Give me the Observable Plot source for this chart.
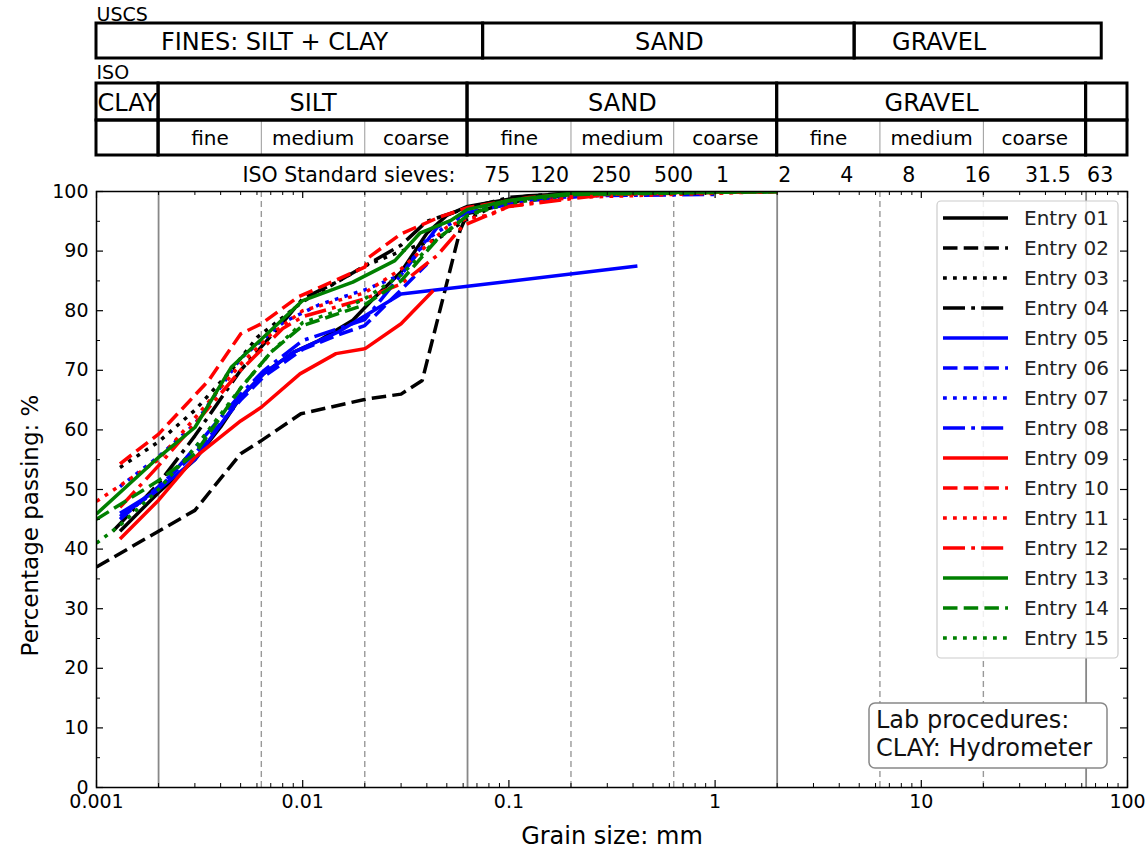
<!DOCTYPE html>
<html><head><meta charset="utf-8">
<script src="https://cdn.jsdelivr.net/npm/d3@7"></script>
<script src="https://cdn.jsdelivr.net/npm/@observablehq/plot@0.6"></script>
<style>
body{margin:0;background:#fff;font-family:"DejaVu Sans",sans-serif}
#chart{position:relative;width:1147px;height:856px;background:#fff}
#chart svg{display:block;font-family:"DejaVu Sans",sans-serif;background:none;overflow:visible}
</style></head><body><div id="chart"></div>
<script>
// ---------------- data ----------------
const entryNames = ["Entry 01","Entry 02","Entry 03","Entry 04","Entry 05","Entry 06","Entry 07","Entry 08","Entry 09","Entry 10","Entry 11","Entry 12","Entry 13","Entry 14","Entry 15"];
const entryColors = ["#000000","#000000","#000000","#000000","#0000ff","#0000ff","#0000ff","#0000ff","#ff0000","#ff0000","#ff0000","#ff0000","#008000","#008000","#008000"];
const entryStyles = ["solid","dashed","dotted","dashdot","solid","dashed","dotted","dashdot","solid","dashed","dotted","dashdot","solid","dashed","dotted"];

// [grain size mm, % passing]
const entry01 = [[0.0013,43],[0.002,49.5],[0.003,55],[0.004,60.5],[0.005,65.5],[0.0065,69.5],[0.009,73],[0.012,75],[0.0175,78.4],[0.022,82],[0.03,86.5],[0.04,93],[0.05,96],[0.063,97.5],[0.125,99.3],[0.25,99.8],[0.5,100],[2,100]];
const entry02 = [[0.001,37],[0.003,46.5],[0.005,56],[0.0063,58.2],[0.0098,62.7],[0.0205,65.2],[0.03,66],[0.038,68.3],[0.058,93.5],[0.063,96.3],[0.125,98.8],[0.25,99.6],[0.5,100],[2,100]];
const entry03 = [[0.0013,53.7],[0.002,58],[0.003,63.3],[0.0045,70],[0.006,75.5],[0.01,81.5],[0.015,85],[0.02,87.5],[0.03,90],[0.045,92],[0.06,95],[0.09,98],[0.2,99.5],[0.5,100],[2,100]];
const entry04 = [[0.0012,43],[0.002,51],[0.003,59],[0.005,70],[0.008,78],[0.01,82],[0.015,85],[0.02,87.5],[0.03,91],[0.04,95],[0.06,97],[0.1,99],[0.25,100],[2,100]];
const entry05 = [[0.0013,46],[0.002,50],[0.003,55],[0.005,65.5],[0.0065,69.5],[0.009,73],[0.015,76.5],[0.03,82.8],[0.063,84.1],[0.42,87.5]];
const entry06 = [[0.0013,45],[0.002,50.5],[0.003,56],[0.005,65],[0.0065,69],[0.01,73.5],[0.015,76],[0.02,77.5],[0.03,83.5],[0.04,87.8]];
const entry07 = [[0.0013,50.5],[0.002,55.5],[0.003,61],[0.005,72],[0.008,78],[0.012,81],[0.02,83.5],[0.03,86],[0.04,92],[0.06,96],[0.1,98.5],[0.3,99.5],[1,100]];
const entry08 = [[0.0013,45.5],[0.002,50],[0.003,57],[0.005,66],[0.0065,70],[0.01,75],[0.02,78.5],[0.03,86],[0.045,94],[0.063,96.5],[0.125,98.5],[0.25,99.3],[1,99.5]];
const entry09 = [[0.0013,41.7],[0.002,48.2],[0.003,55.4],[0.005,61.5],[0.0063,63.8],[0.0097,69.4],[0.0145,72.8],[0.02,73.6],[0.03,77.8],[0.043,83.4]];
const entry10 = [[0.0013,54.3],[0.002,59.3],[0.0035,68.3],[0.005,76.1],[0.0063,77.8],[0.0095,82.3],[0.02,87.3],[0.021,89],[0.03,92.9],[0.046,95.7],[0.063,97.3],[0.125,99],[0.25,99.7],[2,100]];
const entry11 = [[0.001,48],[0.002,55],[0.003,62],[0.005,71],[0.007,76],[0.01,80],[0.02,83],[0.03,87],[0.05,94],[0.063,95.5],[0.08,96],[0.1,97.5],[0.2,99],[2,100]];
const entry12 = [[0.0013,47],[0.002,54],[0.003,61],[0.005,70],[0.008,77],[0.01,79],[0.02,82],[0.03,84.5],[0.045,89.3],[0.06,94.3],[0.1,97.5],[0.3,99.5],[2,100]];
const entry13 = [[0.001,45.9],[0.002,55.4],[0.003,60.4],[0.0045,70.5],[0.01,81.7],[0.0175,84.8],[0.028,88.4],[0.037,93],[0.052,95.1],[0.063,97],[0.1,98.5],[0.2,99.7],[2,100]];
const entry14 = [[0.001,45],[0.002,51.5],[0.003,56],[0.005,67],[0.007,73],[0.01,77.5],[0.02,81],[0.03,85],[0.045,92],[0.063,96],[0.1,98.5],[0.2,99.5],[2,100]];
const entry15 = [[0.001,41],[0.0013,44],[0.002,50],[0.003,57],[0.005,67],[0.007,73],[0.01,78],[0.015,80],[0.02,82],[0.03,86],[0.045,92],[0.063,96],[0.1,98],[0.2,99.5],[2,100]];
const entries = [entry01,entry02,entry03,entry04,entry05,entry06,entry07,entry08,entry09,entry10,entry11,entry12,entry13,entry14,entry15];

// classification boundaries (mm)
const isoMajor = [0.002, 0.063, 2, 63];
const isoMinor = [0.0063, 0.02, 0.2, 0.63, 6.3, 20];
const isoBounds = [0.001, 0.002, 0.063, 2, 63, 100];
const isoLabels = ["CLAY", "SILT", "SAND", "GRAVEL", ""];
const isoSubBounds = [0.002, 0.0063, 0.02, 0.063, 0.2, 0.63, 2, 6.3, 20, 63];
const isoSubLabels = ["fine","medium","coarse","fine","medium","coarse","fine","medium","coarse"];
const uscsBounds = [0.001, 0.075, 4.75, 75];
const uscsLabels = ["FINES: SILT + CLAY", "SAND", "GRAVEL"];
const uscsLabelAt = [0.0073, 0.6, 12.2];
const sieveSizes = [0.075, 0.125, 0.25, 0.5, 1, 2, 4, 8, 16, 31.5, 63];
const sieveLabels = ["75","120","250","500","1","2","4","8","16","31.5","63"];

// axis ticks
const xMajor = [0.001, 0.01, 0.1, 1, 10, 100];
const xMinor = d3.range(-3, 2).flatMap(e => d3.range(2, 10).map(k => +(k * 10 ** e).toPrecision(3)));
const yMajor = d3.range(0, 101, 10);
const yMinor = d3.range(5, 100, 10);

// ---------------- layout ----------------
const W = 1147, headH = 186;
const mL = 96, mR = 20;
const H = 856 - headH, mT = 5, mB = 69;
const innerH = H - mT - mB, innerW = W - mL - mR;
const lw = 3.5;
const dashes = {solid: null, dashed: "14.5,6.2", dotted: "3.8,6.2", dashdot: "22,6.2,3.8,6.2"};

// header rows (pixel rows of the header svg)
const uscsRow = {y1: 23, y2: 58};
const isoTop = {y1: 83, y2: 120};
const isoBot = {y1: 120, y2: 155};

const uscsCells = uscsLabels.map((t, i) => ({x1: uscsBounds[i], x2: uscsBounds[i+1], t, at: uscsLabelAt[i]}));
const isoCells = isoLabels.map((t, i) => ({x1: isoBounds[i], x2: isoBounds[i+1], t, at: Math.sqrt(isoBounds[i]*isoBounds[i+1])}));
const isoSubCells = isoSubLabels.map((t, i) => ({t, at: Math.sqrt(isoSubBounds[i]*isoSubBounds[i+1])}));
const sieves = sieveSizes.map((s, i) => ({s, t: sieveLabels[i]}));

const header = Plot.plot({
  width: W, height: headH, marginLeft: mL, marginRight: mR, marginTop: 0, marginBottom: 0,
  x: {type: "log", domain: [0.001, 100], axis: null},
  y: {type: "identity", axis: null},
  style: {fontFamily: "DejaVu Sans", background: "none"},
  marks: [
    Plot.text([{t: "USCS", x: 0.001, y: 14}], {x: "x", y: "y", text: "t", textAnchor: "start", fontSize: 19, fill: "black"}),
    Plot.rect(uscsCells, {x1: "x1", x2: "x2", y1: () => uscsRow.y1, y2: () => uscsRow.y2, fill: "none", stroke: "black", strokeWidth: 3}),
    Plot.text(uscsCells, {x: "at", y: () => (uscsRow.y1 + uscsRow.y2) / 2 + 1, text: "t", fontSize: 24, fill: "black"}),
    Plot.text([{t: "ISO", x: 0.001, y: 72}], {x: "x", y: "y", text: "t", textAnchor: "start", fontSize: 19, fill: "black"}),
    Plot.ruleX(isoMinor, {y1: () => isoBot.y1, y2: () => isoBot.y2, stroke: "#999", strokeWidth: 1}),
    Plot.rect(isoCells, {x1: "x1", x2: "x2", y1: () => isoTop.y1, y2: () => isoTop.y2, fill: "none", stroke: "black", strokeWidth: 3}),
    Plot.rect(isoCells, {x1: "x1", x2: "x2", y1: () => isoBot.y1, y2: () => isoBot.y2, fill: "none", stroke: "black", strokeWidth: 3}),
    Plot.text(isoCells, {x: "at", y: () => (isoTop.y1 + isoTop.y2) / 2 + 1, text: "t", fontSize: 24, fill: "black"}),
    Plot.text(isoSubCells, {x: "at", y: () => (isoBot.y1 + isoBot.y2) / 2 + 1, text: "t", fontSize: 20, fill: "black"}),
    Plot.text([{t: "ISO Standard sieves:", x: 0.055, y: 175}], {x: "x", y: "y", text: "t", textAnchor: "end", fontSize: 20.5, fill: "black"}),
    Plot.text(sieves, {x: "s", y: () => 175, text: "t", textAnchor: "start", dx: 1, fontSize: 20.5, fill: "black"})
  ]
});

const lineMarks = entries.map((e, i) => Plot.line(e, {
  x: d => d[0], y: d => d[1], stroke: entryColors[i], strokeWidth: lw,
  strokeDasharray: dashes[entryStyles[i]], strokeLinecap: "butt", strokeLinejoin: "round", clip: true
}));

const main = Plot.plot({
  width: W, height: H, marginLeft: mL, marginRight: mR, marginTop: mT, marginBottom: mB,
  x: {type: "log", domain: [0.001, 100]},
  y: {domain: [0, 100]},
  style: {fontFamily: "DejaVu Sans", background: "none", color: "black", overflow: "visible"},
  marks: [
    Plot.ruleX(isoMajor, {stroke: "#888", strokeWidth: 1.8}),
    Plot.ruleX(isoMinor, {stroke: "#999", strokeWidth: 1.4, strokeDasharray: "6,4"}),
    ...lineMarks,
    // inward ticks on all four sides
    Plot.tickX(xMajor, {insetTop: innerH - 7, stroke: "black", strokeWidth: 1.2}),
    Plot.tickX(xMinor, {insetTop: innerH - 4, stroke: "black", strokeWidth: 1}),
    Plot.tickX(xMajor, {insetBottom: innerH - 7, stroke: "black", strokeWidth: 1.2}),
    Plot.tickX(xMinor, {insetBottom: innerH - 4, stroke: "black", strokeWidth: 1}),
    Plot.tickY(yMajor, {insetRight: innerW - 7, stroke: "black", strokeWidth: 1.2}),
    Plot.tickY(yMinor, {insetRight: innerW - 4, stroke: "black", strokeWidth: 1}),
    Plot.tickY(yMajor, {insetLeft: innerW - 7, stroke: "black", strokeWidth: 1.2}),
    Plot.tickY(yMinor, {insetLeft: innerW - 4, stroke: "black", strokeWidth: 1}),
    Plot.frame({stroke: "black", strokeWidth: 1.5}),
    Plot.axisX(xMajor, {tickSize: 0, tickPadding: 7, fontSize: 19, tickFormat: d => String(d), label: null}),
    Plot.axisY(yMajor, {tickSize: 0, tickPadding: 8, fontSize: 19, tickFormat: d => String(d), label: null}),
    Plot.text(["Grain size: mm"], {frameAnchor: "bottom", textAnchor: "middle", dy: 56, fontSize: 24, fill: "black"}),
    Plot.text(["Percentage passing: %"], {frameAnchor: "left", textAnchor: "middle", dx: -66, dy: 36, rotate: -90, fontSize: 23, fill: "black"})
  ]
});

// legend and note box
const svg = d3.select(main);
const lg = svg.append("g").attr("text-anchor", "start");
const lgX = 937, lgY = 15, lgW = 181, lgH = 457;
lg.append("rect").attr("x", lgX).attr("y", lgY).attr("width", lgW).attr("height", lgH)
  .attr("rx", 4).attr("fill", "white").attr("fill-opacity", 0.85).attr("stroke", "#cccccc").attr("stroke-width", 1.2);
entryNames.forEach((name, i) => {
  const cy = lgY + 17 + i * 30;
  lg.append("line").attr("x1", lgX + 6).attr("x2", lgX + 71).attr("y1", cy).attr("y2", cy)
    .attr("stroke", entryColors[i]).attr("stroke-width", lw)
    .attr("stroke-dasharray", dashes[entryStyles[i]]);
  lg.append("text").attr("x", lgX + 87).attr("y", cy).attr("dy", "0.35em")
    .attr("font-size", 20).attr("fill", "#222").attr("text-anchor", "start").text(name);
});
const nb = svg.append("g").attr("text-anchor", "start");
nb.append("rect").attr("x", 869).attr("y", 517).attr("width", 238).attr("height", 65)
  .attr("rx", 6).attr("fill", "white").attr("stroke", "#888").attr("stroke-width", 1.5);
["Lab procedures:", "CLAY: Hydrometer"].forEach((t, i) => {
  nb.append("text").attr("x", 876).attr("y", 534 + i * 28).attr("dy", "0.35em")
    .attr("font-size", 24).attr("fill", "#111").attr("text-anchor", "start").text(t);
});

const root = document.getElementById("chart");
root.appendChild(header);
root.appendChild(main);
</script></body></html>
